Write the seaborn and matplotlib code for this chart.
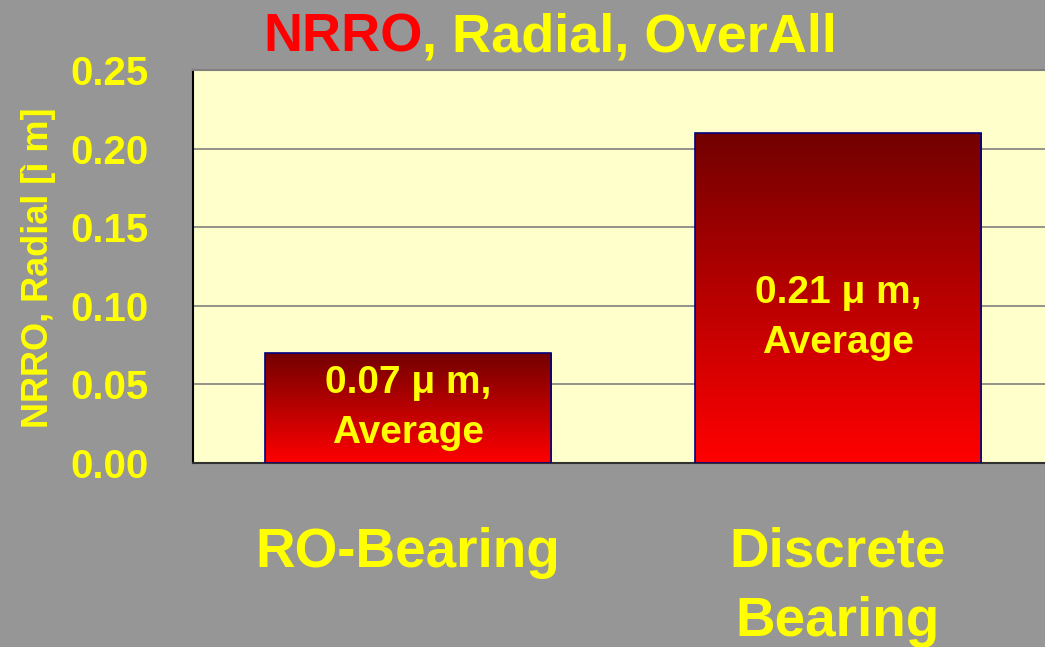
import numpy as np
import pandas as pd
import seaborn as sns
import matplotlib.pyplot as plt
from matplotlib.colors import LinearSegmentedColormap

categories = ["RO-Bearing", "Discrete\nBearing"]
nrro = [0.07, 0.21]
bar_labels = ["0.07 \u03bc m,\nAverage", "0.21 \u03bc m,\nAverage"]
yticks = [0.00, 0.05, 0.10, 0.15, 0.20, 0.25]

sns.set_style("white")
plt.rcParams['font.family'] = ['Liberation Sans', 'DejaVu Sans']
plt.rcParams['font.weight'] = 'bold'

YEL = "#ffff00"
fig = plt.figure(figsize=(10.45, 6.47), dpi=100)
fig.patch.set_facecolor("#969696")
# plot area runs a little past the right edge, like the original slide
ax = fig.add_axes([193 / 1045, 1 - 463 / 647, 860 / 1045, 393 / 647])
ax.set_facecolor("#ffffcc")

df = pd.DataFrame({"cat": categories, "val": nrro})
sns.barplot(data=df, x="cat", y="val", ax=ax, width=0.667,
            color="#ff0000", edgecolor="#000080", linewidth=1.2, zorder=3)

ax.set_yticks(yticks)
ax.set_yticklabels([f"{t:.2f}" for t in yticks], color=YEL, fontsize=29, fontweight='bold')
ax.yaxis.grid(True, color="#808080", linewidth=1.2, zorder=0)
ax.set_axisbelow(True)
ax.tick_params(axis='y', direction='in', length=13, width=1.2, color="#101010", pad=32)
for lbl in ax.get_yticklabels():
    lbl.set_verticalalignment('center_baseline')
ax.tick_params(axis='x', length=0, pad=46)
ax.set_xticks([0.5], minor=True)
ax.tick_params(axis='x', which='minor', direction='in', length=19, width=1.2, color="black")
for lbl in ax.get_xticklabels():
    lbl.set_color(YEL)
    lbl.set_fontsize(39.5)
    lbl.set_fontweight('bold')
    lbl.set_linespacing(1.42)
    lbl.set_verticalalignment('top')
ax.set_xlabel("")
ax.set_ylabel("NRRO, Radial [\u00ec m]", color=YEL, fontsize=26, fontweight='bold')
ax.yaxis.set_label_coords(-0.159, 0.496)

ax.spines['left'].set_color("black")
ax.spines['bottom'].set_color("#303030")
ax.spines['top'].set_color("#808080")
ax.spines['right'].set_visible(False)
for s in ax.spines.values():
    s.set_linewidth(1.5)

# dark-to-bright red gradient inside each bar
cmap = LinearSegmentedColormap.from_list("redgrad", ["#ff0000", "#720000"])
grad = np.linspace(0, 1, 256).reshape(-1, 1)
for p, txt in zip(ax.patches, bar_labels):
    x0, w, h = p.get_x(), p.get_width(), p.get_height()
    im = ax.imshow(grad, cmap=cmap, origin='lower', aspect='auto',
                   extent=[x0, x0 + w, 0, h], zorder=3.5)
    im.set_clip_path(p)
    p.set_zorder(4)
    p.set_facecolor("none")
    ty = h / 2 if h < 0.1 else h * 0.44
    ax.text(x0 + w / 2, ty, txt, ha='center', va='center',
            color=YEL, fontsize=28, fontweight='bold', linespacing=1.5, zorder=5)
ax.set_xlim(-0.5, 1.5)
ax.set_ylim(0, 0.25)

# two-colour title
r = fig.canvas.get_renderer()
t1 = fig.text(263 / 1045, 1 - 37 / 647, "NRRO", color="#ff0000", fontsize=39,
              fontweight='bold', va='center', ha='left')
bb = t1.get_window_extent(r)
fig.text(bb.x1 / fig.bbox.width, 1 - 37 / 647, ", Radial, OverAll", color=YEL,
         fontsize=39, fontweight='bold', va='center', ha='left')

fig.savefig("out.png", dpi=100, facecolor=fig.get_facecolor())
